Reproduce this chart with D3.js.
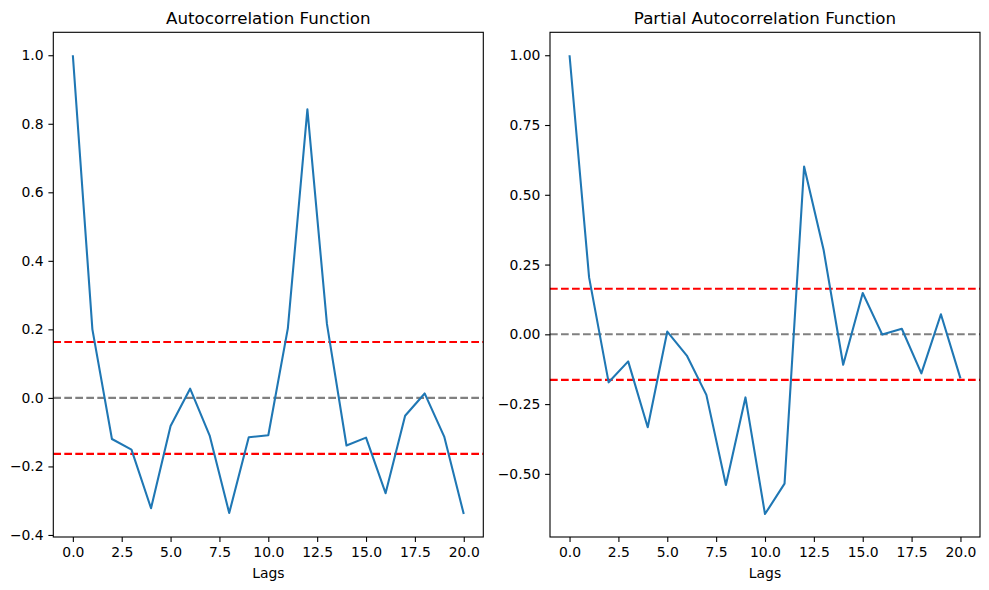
<!DOCTYPE html>
<html><head><meta charset="utf-8">
<script src="https://cdn.jsdelivr.net/npm/d3@7"></script>
<style>body{margin:0;background:#fff}text{font-family:"DejaVu Sans",sans-serif}</style>
</head><body><svg id="c" width="989" height="590"></svg>
<script>
const lags = d3.range(0, 21);
const acfValues = [1.0, 0.200, -0.120, -0.151, -0.322, -0.082, 0.027, -0.110, -0.336, -0.115, -0.109, 0.203, 0.842, 0.216, -0.139, -0.116, -0.278, -0.052, 0.013, -0.113, -0.339];
const pacfValues = [1.0, 0.204, -0.172, -0.097, -0.333, 0.010, -0.076, -0.217, -0.540, -0.226, -0.644, -0.535, 0.601, 0.302, -0.109, 0.148, -0.001, 0.020, -0.140, 0.072, -0.158];
const confBound = 0.1633;
const xTicks = [0, 2.5, 5, 7.5, 10, 12.5, 15, 17.5, 20];
const acfYTicks = [-0.4, -0.2, 0, 0.2, 0.4, 0.6, 0.8, 1.0];
const pacfYTicks = [-0.5, -0.25, 0, 0.25, 0.5, 0.75, 1.0];
const titles = ["Autocorrelation Function", "Partial Autocorrelation Function"];

const svg = d3.select("#c");
const minus = s => s.replace("-", "\u2212");

function panel(left, right, values, yTicks, yFmt, title) {
  const top = 32.3, bottom = 537;
  const x = d3.scaleLinear().domain([-1, 21]).range([left, right]);
  const mn = d3.min(values), mx = d3.max(values), pad = (mx - mn) * 0.05;
  const y = d3.scaleLinear().domain([mn - pad, mx + pad]).range([bottom, top]);
  const g = svg.append("g");
  const dash = "7.7,3.3";
  [[confBound, "red"], [-confBound, "red"], [0, "gray"]].forEach(([v, c]) => {
    g.append("line").attr("x1", left).attr("x2", right).attr("y1", y(v)).attr("y2", y(v))
      .attr("stroke", c).attr("stroke-width", 2.08).attr("stroke-dasharray", dash);
  });
  g.append("path").datum(values)
    .attr("d", d3.line().x((d, i) => x(lags[i])).y(d => y(d)))
    .attr("fill", "none").attr("stroke", "#1f77b4").attr("stroke-width", 2.08)
    .attr("stroke-linejoin", "round");
  const xa = g.append("g").attr("transform", `translate(0,${bottom})`)
    .call(d3.axisBottom(x).tickValues(xTicks).tickFormat(d3.format(".1f")).tickSizeOuter(0).tickSize(4.9).tickPadding(4.8));
  const ya = g.append("g").attr("transform", `translate(${left},0)`)
    .call(d3.axisLeft(y).tickValues(yTicks).tickFormat(d => minus(yFmt(d))).tickSizeOuter(0).tickSize(4.9).tickPadding(4.8));
  [xa, ya].forEach(a => {
    a.select(".domain").remove();
    a.selectAll("line").attr("stroke", "#000").attr("stroke-width", 1.1);
    a.selectAll("text").attr("font-size", 13.9).attr("fill", "#000").attr("font-family", "DejaVu Sans");
  });
  g.append("rect").attr("x", left).attr("y", top).attr("width", right - left).attr("height", bottom - top)
    .attr("fill", "none").attr("stroke", "#000").attr("stroke-width", 1.1);
  g.append("text").attr("x", (left + right) / 2).attr("y", 24).attr("text-anchor", "middle")
    .attr("font-size", 16.7).text(title);
  g.append("text").attr("x", (left + right) / 2).attr("y", 578).attr("text-anchor", "middle")
    .attr("font-size", 13.9).text("Lags");
}
panel(53.3, 483.3, acfValues, acfYTicks, d3.format(".1f"), titles[0]);
panel(550, 980, pacfValues, pacfYTicks, d3.format(".2f"), titles[1]);
</script></body></html>
